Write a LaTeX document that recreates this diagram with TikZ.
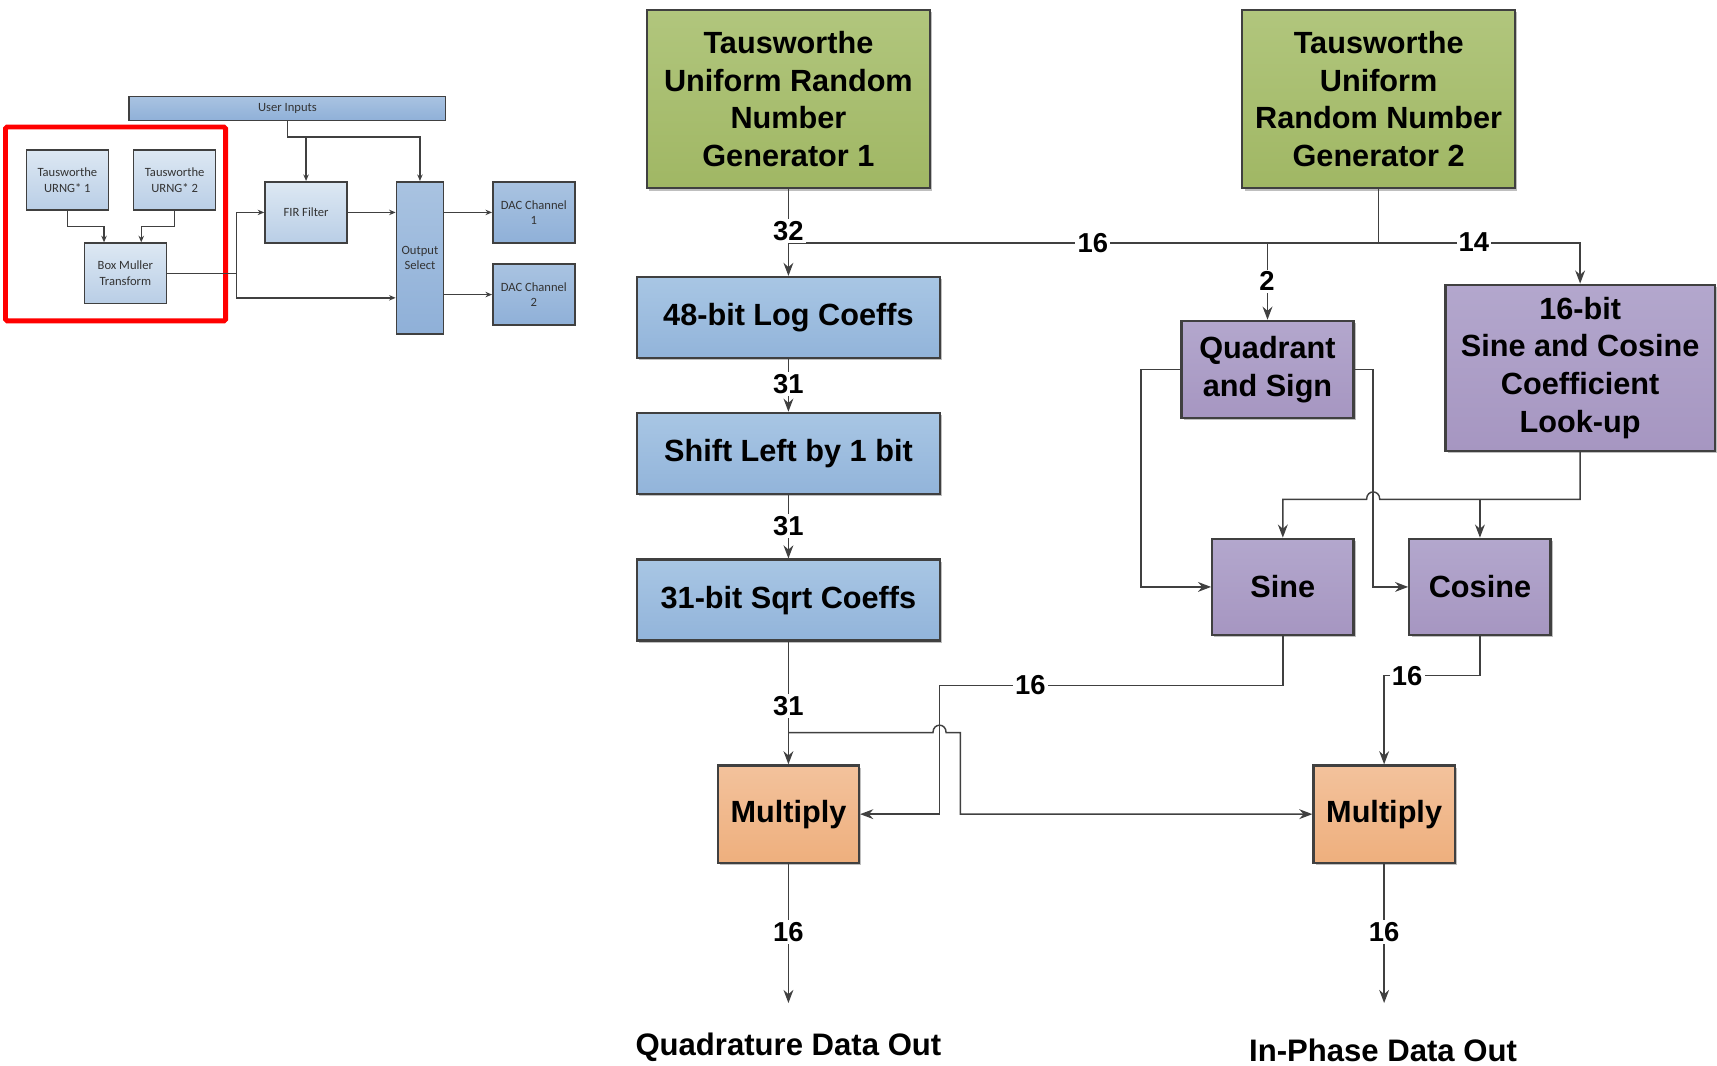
\documentclass[tikz,border=0pt]{standalone}
\usepackage{fontspec}
\setmainfont{Liberation Sans}
\newfontfamily\carl{Carlito}
\usetikzlibrary{arrows.meta,shadows}
\definecolor{lnc}{HTML}{404040}
\definecolor{gtop}{HTML}{B1C67D}
\definecolor{gbot}{HTML}{A0B764}
\definecolor{btop}{HTML}{A8C6E4}
\definecolor{bbot}{HTML}{92B4DA}
\definecolor{ptop}{HTML}{B3A7CD}
\definecolor{pbot}{HTML}{A696C1}
\definecolor{otop}{HTML}{F3C29C}
\definecolor{obot}{HTML}{EEAF7D}
\definecolor{ltop}{HTML}{DDE8F3}
\definecolor{lbot}{HTML}{B9CEE6}
\definecolor{mtop}{HTML}{A9C3E1}
\definecolor{mbot}{HTML}{8FB0D8}
\begin{document}
\begin{tikzpicture}[x=1pt,y=-1pt,
  mbox/.style={draw=lnc, line width=2pt, align=center, inner sep=0pt,
    font=\fontsize{28}{34.5}\selectfont\bfseries,
    drop shadow={shadow xshift=2pt,shadow yshift=-2pt,opacity=0.25,fill=black}},
  gbox/.style={mbox, top color=gtop, bottom color=gbot},
  bluebox/.style={mbox, top color=btop, bottom color=bbot},
  pbox/.style={mbox, top color=ptop, bottom color=pbot},
  obox/.style={mbox, top color=otop, bottom color=obot},
  conn/.style={draw=lnc, line width=1.3pt},
  arr/.style={conn, -{Stealth[length=12pt,width=9pt]}},
  num/.style={fill=white, inner sep=2pt, font=\fontsize{25}{25}\selectfont\bfseries},
  outtxt/.style={inner sep=0pt, font=\fontsize{28.4}{28.4}\selectfont\bfseries},
  sbox/.style={draw=lnc, line width=1.4pt, align=center, inner sep=0pt,
    text=black!80, font=\carl\fontsize{11.5}{14}\selectfont},
  lbox/.style={sbox, top color=ltop, bottom color=lbot},
  mdbox/.style={sbox, top color=mtop, bottom color=mbot},
  sconn/.style={draw=lnc, line width=1.2pt},
  sarr/.style={sconn, -{Stealth[length=6pt,width=5pt]}}
]
\useasboundingbox (0,0) rectangle (1568,973);

% ---------------- left small diagram ----------------
\node[mdbox, minimum width=289pt, minimum height=22pt] (ui) at (262.5,99) {User Inputs};
\node[lbox, minimum width=75pt, minimum height=55pt] (t1) at (61.5,164.5) {Tausworthe\\URNG* 1};
\node[lbox, minimum width=75pt, minimum height=55pt] (t2) at (159.5,164.5) {Tausworthe\\URNG* 2};
\node[lbox, minimum width=75pt, minimum height=55pt] (bm) at (114.5,249.5) {Box Muller\\Transform};
\node[lbox, minimum width=75pt, minimum height=56pt] (fir) at (279.5,194) {FIR Filter};
\node[mdbox, minimum width=43pt, minimum height=139pt] (os) at (383.5,235.5) {Output\\Select};
\node[mdbox, minimum width=75pt, minimum height=56pt] (dac1) at (487.5,194) {DAC Channel\\1};
\node[mdbox, minimum width=75pt, minimum height=56pt] (dac2) at (487.5,269) {DAC Channel\\2};
\draw[red, line width=4.5pt, rounded corners=1.5pt] (5,116) rectangle (206,293);

\draw[sarr] (t1.south) |- (95,207) -- (bm.north -| 95,0);
\draw[sarr] (t2.south) |- (129,207) -- (bm.north -| 129,0);
\coordinate (bmj) at (216,249.5);
\draw[sconn] (bm.east) -- (bmj);
\draw[sarr] (bmj) |- (fir.west);
\draw[sarr] (bmj) |- (os.west |- 0,272);
\coordinate (uij) at (279.5,125);
\draw[sarr] (ui.south) |- (uij) -- (fir.north);
\draw[sarr] (uij) -| (os.north);
\draw[sarr] (fir.east) -- (os.west |- fir.east);
\draw[sarr] (os.east |- dac1.west) -- (dac1.west);
\draw[sarr] (os.east |- dac2.west) -- (dac2.west);

% ---------------- main diagram ----------------
\node[gbox, minimum width=258pt, minimum height=163pt] (g1) at (720,90.5) {Tausworthe\\Uniform Random\\Number\\Generator 1};
\node[gbox, minimum width=249pt, minimum height=163pt] (g2) at (1259,90.5) {Tausworthe\\Uniform\\Random Number\\Generator 2};
\node[bluebox, minimum width=277pt, minimum height=74pt] (log) at (720,290) {48-bit Log Coeffs};
\node[bluebox, minimum width=277pt, minimum height=74pt] (shift) at (720,414) {Shift Left by 1 bit};
\node[bluebox, minimum width=277pt, minimum height=74pt] (sqrt) at (720,548) {31-bit Sqrt Coeffs};
\node[pbox, minimum width=157pt, minimum height=89pt] (quad) at (1157.5,337.5) {Quadrant\\and Sign};
\node[pbox, minimum width=246pt, minimum height=152pt] (lut) at (1443,336) {16-bit\\Sine and Cosine\\Coefficient\\Look-up};
\node[pbox, minimum width=129pt, minimum height=88pt] (sine) at (1171.5,536) {Sine};
\node[pbox, minimum width=129pt, minimum height=88pt] (cosine) at (1351.5,536) {Cosine};
\node[obox, minimum width=129pt, minimum height=89pt] (mul1) at (720,743.5) {Multiply};
\node[obox, minimum width=129pt, minimum height=89pt] (mul2) at (1264,743.5) {Multiply};
\node[outtxt] (qout) at (720,956) {Quadrature Data Out};
\node[outtxt] (iout) at (1263,959) {In-Phase Data Out};
\coordinate (qend) at (720,916);
\coordinate (iend) at (1264,916);

% connectors from generators
\coordinate (j1) at (720,222);
\draw[arr] (g1.south) -- (log.north);
\draw[conn] (g2.south) |- (j1);
\draw[arr] (quad.north |- j1) -- (quad.north);
\draw[arr] (g2.south |- j1) -| (lut.north);
\node[num] (n32) at (720,211) {32};
\node[num] (n16a) at (998,222) {16};
\node[num] (n2) at (1157,257) {2};
\node[num] (n14) at (1346,221) {14};

% left chain
\draw[arr] (log.south) -- (shift.north);
\node[num] (n31a) at (720,351) {31};
\draw[arr] (shift.south) -- (sqrt.north);
\node[num] (n31b) at (720,480) {31};
\draw[arr] (sqrt.south) -- (mul1.north);
\coordinate (tap) at (720,669);
\draw[arr] (tap) -- (852,669) .. controls (852,660) and (864,660) .. (864,669) -- (877,669) |- (mul2.west);
\node[num] (n31c) at (720,645) {31};

% sine / cosine to multipliers
\draw[arr] (sine.south) |- (858,626) |- (mul1.east);
\node[num] (n16b) at (941,626) {16};
\draw[arr] (cosine.south) |- (mul2.north |- 0,617) -- (mul2.north);
\node[num] (n16c) at (1285,617) {16};

% quadrant to sine/cosine
\draw[arr] (quad.west) -- (1042,337.5) |- (sine.west);
\draw[arr] (quad.east) -- (1254,337.5) |- (cosine.west);

% look-up to sine/cosine
\draw[arr] (lut.south) |- (1260,456) .. controls (1260,447) and (1248,447) .. (1248,456) -| (sine.north);
\draw[arr] (cosine.north |- 0,456) -- (cosine.north);

% outputs
\draw[arr] (mul1.south) -- (qend);
\node[num] (n16d) at (720,851) {16};
\draw[arr] (mul2.south) -- (iend);
\node[num] (n16e) at (1264,851) {16};
\end{tikzpicture}
\end{document}
